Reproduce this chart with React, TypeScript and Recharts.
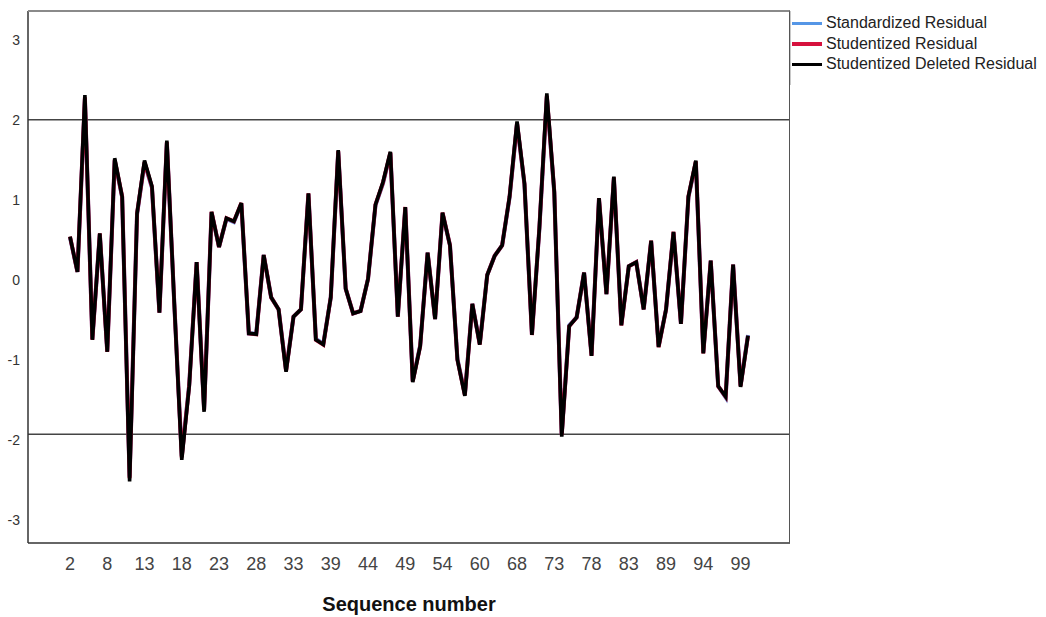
import React from "react";
import {
  LineChart,
  Line,
  XAxis,
  YAxis,
  ReferenceLine,
} from "recharts";

// case sequence numbers (x categories)
const sequence = [
  2, 3, 4, 5, 6, 8,
  9, 10, 11, 12, 13,
  14, 15, 16, 17, 18,
  19, 20, 21, 22, 23,
  24, 25, 26, 27, 28,
  29, 30, 31, 32, 33,
  34, 35, 36, 37, 39,
  40, 41, 42, 43, 44,
  45, 46, 47, 48, 49,
  50, 51, 52, 53, 54,
  55, 56, 57, 58, 60,
  61, 63, 65, 67, 68,
  69, 70, 71, 72, 73,
  74, 75, 76, 77, 78,
  79, 80, 81, 82, 83,
  84, 85, 86, 87, 89,
  90, 91, 92, 93, 94,
  95, 96, 97, 98, 99,
  100,
];

const standardized = [
  0.53, 0.10, 2.26, -0.74, 0.57, -0.89, 1.49, 1.03, -2.46, 0.82,
  1.46, 1.15, -0.41, 1.71, -0.30, -2.20, -1.31, 0.22, -1.62, 0.84,
  0.41, 0.76, 0.72, 0.95, -0.67, -0.67, 0.31, -0.22, -0.37, -1.13,
  -0.46, -0.37, 1.07, -0.74, -0.80, -0.22, 1.60, -0.11, -0.42, -0.39,
  0.01, 0.93, 1.20, 1.58, -0.46, 0.90, -1.26, -0.82, 0.34, -0.49,
  0.83, 0.43, -0.99, -1.43, -0.30, -0.80, 0.06, 0.30, 0.43, 1.03,
  1.95, 1.19, -0.68, 0.64, 2.28, 1.09, -1.93, -0.57, -0.47, 0.09,
  -0.94, 1.01, -0.18, 1.27, -0.56, 0.17, 0.22, -0.37, 0.48, -0.83,
  -0.37, 0.59, -0.55, 1.03, 1.47, -0.91, 0.24, -1.33, -1.47, 0.19,
  -1.32, -0.69,
];

const studentized = [
  0.54, 0.10, 2.28, -0.75, 0.58, -0.90, 1.50, 1.04, -2.48, 0.83,
  1.47, 1.16, -0.41, 1.72, -0.30, -2.22, -1.32, 0.22, -1.63, 0.85,
  0.41, 0.77, 0.73, 0.96, -0.67, -0.68, 0.31, -0.22, -0.37, -1.14,
  -0.46, -0.37, 1.08, -0.75, -0.81, -0.22, 1.61, -0.11, -0.42, -0.39,
  0.01, 0.94, 1.21, 1.59, -0.46, 0.91, -1.27, -0.83, 0.34, -0.49,
  0.84, 0.43, -1.00, -1.44, -0.30, -0.81, 0.06, 0.30, 0.43, 1.04,
  1.96, 1.20, -0.69, 0.65, 2.30, 1.10, -1.94, -0.58, -0.47, 0.09,
  -0.95, 1.02, -0.18, 1.28, -0.57, 0.17, 0.22, -0.37, 0.49, -0.84,
  -0.37, 0.60, -0.55, 1.04, 1.48, -0.92, 0.24, -1.33, -1.46, 0.19,
  -1.33, -0.70,
];

const deleted = [
  0.54, 0.10, 2.31, -0.75, 0.58, -0.90, 1.52, 1.04, -2.52, 0.83,
  1.49, 1.17, -0.41, 1.74, -0.30, -2.25, -1.33, 0.22, -1.65, 0.85,
  0.41, 0.77, 0.73, 0.96, -0.67, -0.68, 0.31, -0.22, -0.37, -1.15,
  -0.46, -0.37, 1.08, -0.75, -0.81, -0.22, 1.62, -0.11, -0.42, -0.39,
  0.01, 0.94, 1.22, 1.60, -0.46, 0.91, -1.28, -0.83, 0.34, -0.49,
  0.84, 0.43, -1.00, -1.45, -0.30, -0.81, 0.06, 0.30, 0.43, 1.04,
  1.98, 1.20, -0.69, 0.65, 2.33, 1.10, -1.96, -0.58, -0.47, 0.09,
  -0.95, 1.02, -0.18, 1.29, -0.57, 0.17, 0.22, -0.37, 0.49, -0.84,
  -0.37, 0.60, -0.55, 1.04, 1.49, -0.92, 0.24, -1.33, -1.46, 0.19,
  -1.34, -0.70,
];

const yTicks = [-3, -2, -1, 0, 1, 2, 3];
const yDomain = [-3.29, 3.36];
const cutoffs = [2, -1.93];

const series = [
  { key: "standardized", name: "Standardized Residual", color: "#5596e6", width: 4 },
  { key: "studentized", name: "Studentized Residual", color: "#d6113d", width: 4 },
  { key: "deleted", name: "Studentized Deleted Residual", color: "#000000", width: 3.6 },
];

const data = sequence.map((s, i) => ({
  seq: String(s),
  standardized: standardized[i],
  studentized: studentized[i],
  deleted: deleted[i],
}));

const FONT = "Arial, 'Liberation Sans', sans-serif";

function ResidualLegend() {
  return (
    <div
      style={{
        position: "absolute",
        left: 790,
        top: 11,
        width: 256,
        height: 74,
        background: "#fff",
        borderLeft: "1px solid #c8c8c8",
        boxSizing: "border-box",
        paddingTop: 2,
        fontFamily: FONT,
        fontSize: 16,
        color: "#222",
      }}
    >
      {series.map((s) => (
        <div key={s.key} style={{ display: "flex", alignItems: "center", height: 20.5 }}>
          <span
            style={{
              display: "inline-block",
              width: 30,
              height: 3.5,
              marginLeft: 1,
              marginRight: 4,
              background: s.color,
            }}
          />
          <span style={{ whiteSpace: "nowrap" }}>{s.name}</span>
        </div>
      ))}
    </div>
  );
}

export default function App() {
  return (
    <div style={{ position: "absolute", left: 0, top: 0, width: 1046, height: 617, background: "#fff" }}>
      <LineChart
        width={1046}
        height={617}
        data={data}
        margin={{ top: 11, right: 256, bottom: 0, left: 0 }}
      >
        <XAxis
          dataKey="seq"
          interval={4}
          padding={{ left: 42, right: 42 }}
          height={74}
          tickLine={false}
          tickMargin={8}
          axisLine={{ stroke: "#333", strokeWidth: 1.5 }}
          tick={{ fontSize: 18, fill: "#444", fontFamily: FONT }}
          label={{
            value: "Sequence number",
            position: "insideBottom",
            offset: 6,
            style: { fontSize: 20, fontWeight: "bold", fill: "#111", fontFamily: FONT },
          }}
        />
        <YAxis
          type="number"
          width={28}
          domain={yDomain}
          ticks={yTicks}
          allowDataOverflow
          tickLine={false}
          axisLine={{ stroke: "#333", strokeWidth: 1.5 }}
          tick={{ fontSize: 14, fill: "#333", fontFamily: FONT }}
        />
        {cutoffs.map((c) => (
          <ReferenceLine key={c} y={c} stroke="#444" strokeWidth={1.5} />
        ))}
        {series.map((s) => (
          <Line
            key={s.key}
            type="linear"
            dataKey={s.key}
            name={s.name}
            stroke={s.color}
            strokeWidth={s.width}
            dot={false}
            activeDot={false}
            isAnimationActive={false}
          />
        ))}
      </LineChart>
      {/* top and right edges of the plot frame */}
      <div
        style={{
          position: "absolute",
          left: 28,
          top: 10,
          width: 762,
          height: 533,
          borderTop: "2px solid #8a8a8a",
          borderRight: "1.5px solid #555",
          boxSizing: "border-box",
          pointerEvents: "none",
        }}
      />
      <ResidualLegend />
    </div>
  );
}
